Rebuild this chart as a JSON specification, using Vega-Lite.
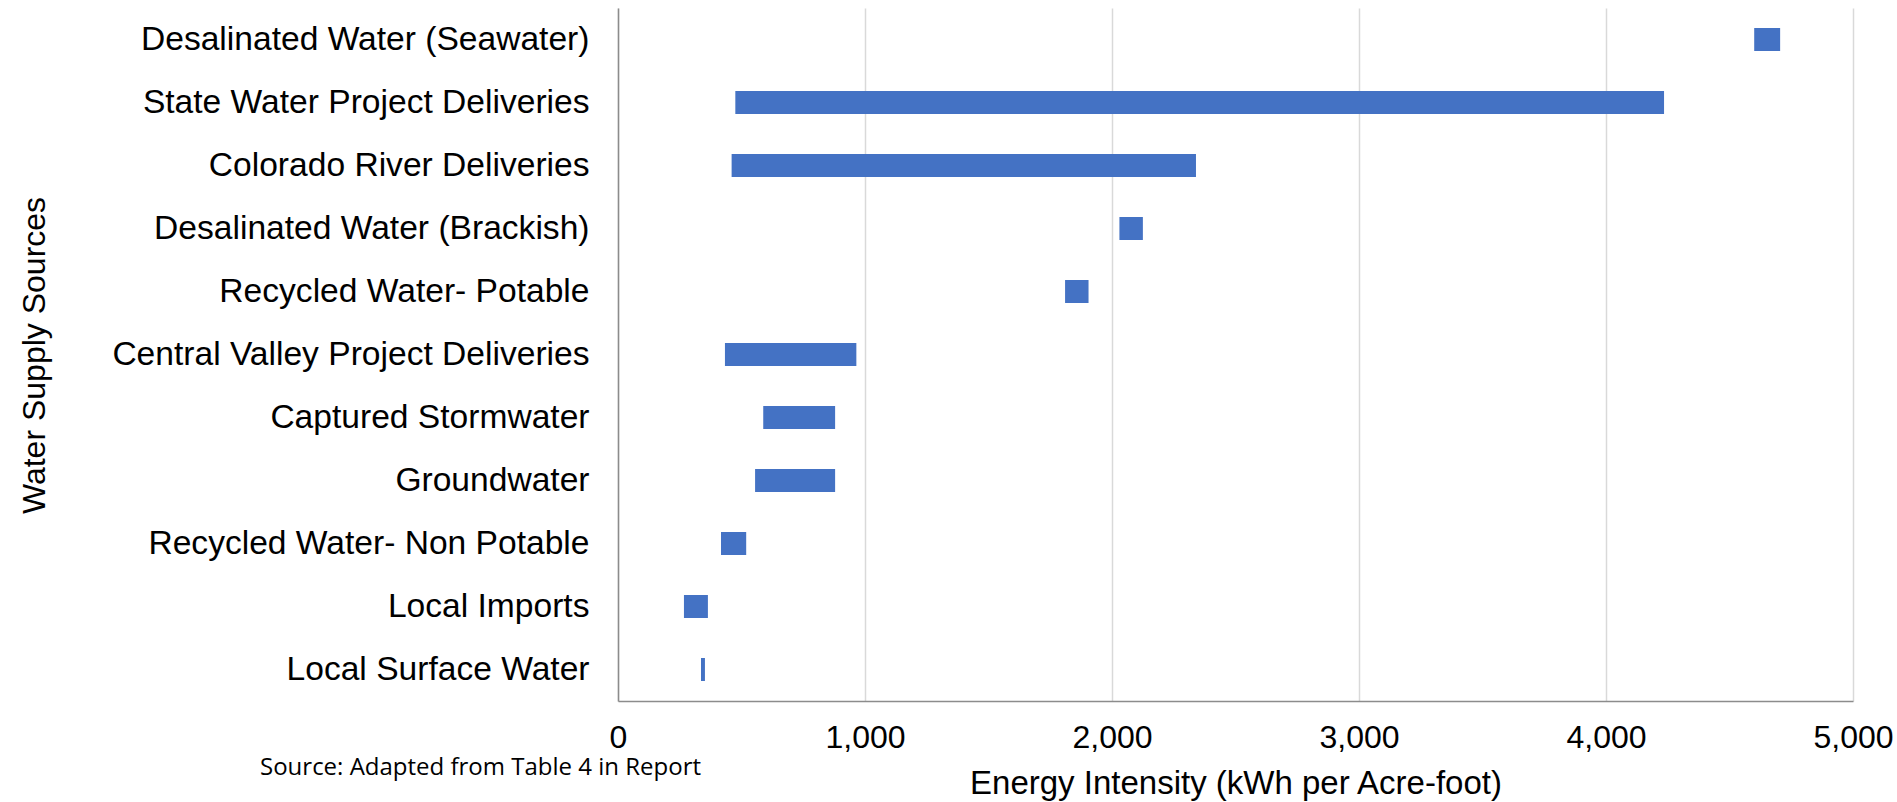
{
  "$schema": "https://vega.github.io/schema/vega-lite/v6.json",
  "width": 1235,
  "height": 693,
  "autosize": {"type": "none"},
  "padding": {"left": 618, "top": 8, "right": 44, "bottom": 101},
  "background": "white",
  "title": {
    "text": "Source: Adapted from Table 4 in Report",
    "orient": "bottom",
    "anchor": "start",
    "frame": "group",
    "dx": -358,
    "offset": -44,
    "font": "Open Sans",
    "fontSize": 24,
    "fontWeight": "normal",
    "color": "#000000"
  },
  "data": {
    "values": [
      {"source": "Desalinated Water (Seawater)", "low": 4600, "high": 4705},
      {"source": "State Water Project Deliveries", "low": 475, "high": 4235},
      {"source": "Colorado River Deliveries", "low": 460, "high": 2340},
      {"source": "Desalinated Water (Brackish)", "low": 2030, "high": 2125},
      {"source": "Recycled Water- Potable", "low": 1810, "high": 1905},
      {"source": "Central Valley Project Deliveries", "low": 433, "high": 965},
      {"source": "Captured Stormwater", "low": 588, "high": 879},
      {"source": "Groundwater", "low": 555, "high": 879},
      {"source": "Recycled Water- Non Potable", "low": 417, "high": 519},
      {"source": "Local Imports", "low": 267, "high": 364},
      {"source": "Local Surface Water", "low": 336, "high": 352}
    ]
  },
  "mark": {"type": "bar", "color": "#4472C4"},
  "encoding": {
    "y": {
      "field": "source",
      "type": "nominal",
      "sort": null,
      "scale": {"paddingInner": 0.635, "paddingOuter": 0.3175},
      "axis": {
        "title": "Water Supply Sources",
        "titleFont": "Liberation Sans",
        "titleFontSize": 32,
        "titleFontWeight": "normal",
        "titleColor": "#000000",
        "titleX": -584,
        "titleY": 347,
        "titleBaseline": "middle",
        "titleAngle": -90,
        "labelFont": "Liberation Sans",
        "labelFontSize": 33.6,
        "labelColor": "#000000",
        "labelPadding": 29,
        "labelLimit": 0,
        "ticks": false,
        "grid": false,
        "domain": true,
        "domainColor": "#8c8c8c",
        "domainWidth": 1.5
      }
    },
    "x": {
      "field": "low",
      "type": "quantitative",
      "scale": {"domain": [0, 5000], "nice": false},
      "axis": {
        "values": [0, 1000, 2000, 3000, 4000, 5000],
        "format": ",d",
        "title": "Energy Intensity (kWh per Acre-foot)",
        "titleFont": "Liberation Sans",
        "titleFontSize": 33,
        "titleFontWeight": "normal",
        "titleColor": "#000000",
        "titleY": 82,
        "titleBaseline": "middle",
        "labelFont": "Liberation Sans",
        "labelFontSize": 32,
        "labelColor": "#000000",
        "labelPadding": 21,
        "labelFlush": false,
        "ticks": false,
        "grid": true,
        "gridColor": "#d9d9d9",
        "gridWidth": 1.5,
        "domain": true,
        "domainColor": "#8c8c8c",
        "domainWidth": 1.5
      }
    },
    "x2": {"field": "high"}
  },
  "config": {"view": {"stroke": null}}
}
